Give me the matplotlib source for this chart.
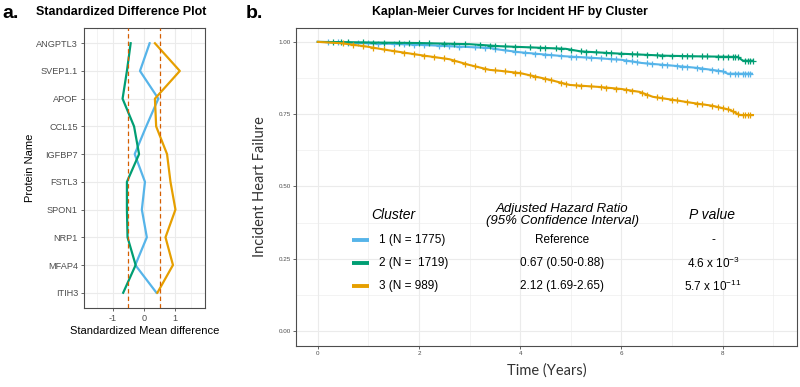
import matplotlib

matplotlib.use("Agg")
import matplotlib.pyplot as plt
import numpy as np

plt.rcParams["font.family"] = ["Liberation Sans", "DejaVu Sans"]
plt.rcParams["mathtext.fontset"] = "custom"
plt.rcParams["mathtext.rm"] = "Liberation Sans"
plt.rcParams["mathtext.it"] = "Liberation Sans:italic"

BLUE = "#56B4E9"
GREEN = "#009E73"
ORANGE = "#E69F00"
CUTOFF = "#D55E00"
GRID = "#EBEBEB"
BORDER = "#4D4D4D"
TICK = "#4D4D4D"

# ---- panel a: standardized mean differences (top to bottom) ----
proteins = ["ANGPTL3", "SVEP1.1", "APOF", "CCL15", "IGFBP7",
            "FSTL3", "SPON1", "NRP1", "MFAP4", "ITIH3"]
smd_c1 = [0.18, -0.13, 0.46, 0.07, -0.30, 0.03, -0.07, 0.09, -0.28, 0.40]
smd_c2 = [-0.43, -0.55, -0.69, -0.32, -0.16, -0.55, -0.55, -0.53, -0.27, -0.67]
smd_c3 = [0.35, 1.15, 0.35, 0.39, 0.74, 0.85, 1.01, 0.69, 0.93, 0.43]
smd_cut = [-0.5, 0.5]

# ---- panel b: Kaplan-Meier curves ----
t1 = [0, 0.5, 1.0, 1.5, 2.0, 2.5, 3.0, 3.4, 3.6, 4.0, 4.5, 4.9, 5.5, 6.0,
      6.4, 7.0, 7.5, 8.0, 8.1, 8.58]
s1 = [1.0, 0.998, 0.995, 0.993, 0.99, 0.986, 0.982, 0.979, 0.973, 0.964,
      0.956, 0.95, 0.944, 0.938, 0.927, 0.918, 0.91, 0.898, 0.89, 0.89]
t2 = [0, 0.5, 1.0, 2.0, 3.0, 3.6, 4.2, 4.9, 5.2, 6.0, 6.9, 7.5, 8.3, 8.4, 8.6]
s2 = [1.0, 0.999, 0.998, 0.996, 0.992, 0.985, 0.981, 0.976, 0.967, 0.959,
      0.952, 0.95, 0.948, 0.935, 0.935]
t3 = [0, 0.48, 0.96, 1.36, 2.0, 2.6, 3.0, 3.4, 3.6, 4.0, 4.58, 4.98, 5.57,
      6.0, 6.36, 6.62, 7.0, 7.4, 7.8, 8.14, 8.34, 8.6]
s3 = [1.0, 0.995, 0.984, 0.972, 0.955, 0.94, 0.92, 0.903, 0.90, 0.892, 0.869,
      0.851, 0.844, 0.837, 0.827, 0.81, 0.80, 0.789, 0.779, 0.765, 0.747, 0.747]

# censoring times (tick marks on the curves)
cens1 = [0.2, 0.4, 0.6, 0.8, 1.0, 1.2, 1.5, 1.7, 1.9, 2.1, 2.4, 2.6, 2.8,
         3.1, 3.3, 3.5, 3.7, 3.9, 4.1, 4.3, 4.5, 4.6, 4.8, 5.0, 5.1, 5.3,
         5.4, 5.6, 5.8, 5.9, 6.1, 6.2, 6.3, 6.5, 6.6, 6.8, 6.9, 7.1, 7.2,
         7.3, 7.5, 7.6, 7.8, 7.9, 8.0, 8.15, 8.25, 8.3, 8.4, 8.45, 8.5, 8.55]
cens2 = [0.3, 0.45, 0.6, 0.9, 1.1, 1.3, 1.6, 1.8, 2.0, 2.2, 2.5, 2.7, 2.9,
         3.2, 3.4, 3.5, 3.7, 3.9, 4.2, 4.4, 4.5, 4.7, 4.8, 5.0, 5.2, 5.3,
         5.5, 5.7, 5.8, 6.0, 6.2, 6.3, 6.5, 6.7, 6.8, 7.0, 7.2, 7.3, 7.4,
         7.6, 7.7, 7.9, 8.0, 8.1, 8.2, 8.25, 8.3, 8.45, 8.5, 8.55, 8.6]
cens3 = [0.5, 0.7, 0.9, 1.1, 1.3, 1.5, 1.7, 1.9, 2.1, 2.3, 2.5, 2.7, 2.9,
         3.1, 3.3, 3.5, 3.7, 3.9, 4.0, 4.2, 4.3, 4.5, 4.6, 4.8, 4.9, 5.1,
         5.2, 5.4, 5.6, 5.7, 5.9, 6.1, 6.2, 6.4, 6.5, 6.7, 6.8, 7.0, 7.1,
         7.3, 7.5, 7.6, 7.8, 7.9, 8.0, 8.1, 8.2, 8.3, 8.4, 8.45, 8.5, 8.55]

legend_labels = ["1 (N = 1775)", "2 (N =  1719)", "3 (N = 989)"]
hr_text = ["Reference", "0.67 (0.50-0.88)", "2.12 (1.69-2.65)"]
p_text = ["-", r"4.6 x 10$^{\mathregular{-3}}$", r"5.7 x 10$^{\mathregular{-11}}$"]


def style_axes(ax):
    for sp in ax.spines.values():
        sp.set_color(BORDER)
        sp.set_linewidth(0.8)
    ax.grid(True, which="major", color=GRID, linewidth=0.8, zorder=0)
    ax.grid(True, which="minor", color=GRID, linewidth=0.4, zorder=0)
    ax.set_axisbelow(True)
    ax.tick_params(which="major", color=TICK, length=2.5, width=0.6,
                   labelcolor=TICK, pad=1.8)
    ax.tick_params(which="minor", length=0)


fig = plt.figure(figsize=(8, 3.87), dpi=100)
W, H = 800, 387


def rect(x0, y0, x1, y1):
    return [x0 / W, 1 - y1 / H, (x1 - x0) / W, (y1 - y0) / H]


# ---------- panel a ----------
ax1 = fig.add_axes(rect(84, 28, 205, 308))
ypos = np.arange(len(proteins))[::-1] + 1
ax1.plot(smd_c1, ypos, color=BLUE, lw=1.6, zorder=3)
ax1.plot(smd_c2, ypos, color=GREEN, lw=1.6, zorder=3)
ax1.plot(smd_c3, ypos, color=ORANGE, lw=1.6, zorder=3)
for c in smd_cut:
    ax1.axvline(c, color=CUTOFF, lw=0.9, ls=(0, (3.5, 2.5)), zorder=4)
ax1.set_xlim(-1.93, 1.96)
ax1.set_ylim(0.45, 10.55)
ax1.set_xticks([-1, 0, 1])
ax1.set_xticklabels(["-1", "0", "1"])
ax1.set_xticks([-1.5, -0.5, 0.5, 1.5], minor=True)
ax1.set_yticks(ypos)
ax1.set_yticklabels(proteins)
style_axes(ax1)
ax1.tick_params(labelsize=6.6)
ax1.set_xlabel("Standardized Mean difference", fontsize=8, labelpad=2)
ax1.set_ylabel("Protein Name", fontsize=8, labelpad=1)

fig.text(2 / W, 1 - 13 / H, "a.", fontsize=14, fontweight="bold",
         ha="left", va="center")
fig.text(121 / W, 1 - 12 / H, "Standardized Difference Plot", fontsize=9,
         fontweight="bold", ha="center", va="center")

# ---------- panel b ----------
ax2 = fig.add_axes(rect(296, 28, 797, 346))
for t, s, cens, col in [(t1, s1, cens1, BLUE), (t2, s2, cens2, GREEN),
                        (t3, s3, cens3, ORANGE)]:
    ax2.plot(t, s, color=col, lw=1.5, zorder=3)
    ax2.plot(cens, np.interp(cens, t, s), ls="none", marker="+", ms=4,
             mew=0.9, color=col, zorder=3)
ax2.set_xlim(-0.43, 9.47)
ax2.set_ylim(-0.052, 1.048)
ax2.set_xticks([0, 2, 4, 6, 8])
ax2.set_xticks([1, 3, 5, 7, 9], minor=True)
ax2.set_yticks([0, 0.25, 0.5, 0.75, 1.0])
ax2.set_yticklabels(["0.00", "0.25", "0.50", "0.75", "1.00"])
ax2.set_yticks([0.125, 0.375, 0.625, 0.875], minor=True)
style_axes(ax2)
ax2.tick_params(labelsize=4.5, length=2)
ax2.set_xlabel("Time (Years)", fontsize=10.5, family="Lato", labelpad=5,
               color="#333333")
ax2.set_ylabel("Incident Heart Failure", fontsize=10.5, family="Lato",
               labelpad=8, color="#333333")

fig.text(246 / W, 1 - 13 / H, "b.", fontsize=14, fontweight="bold",
         ha="left", va="center")
fig.text(510 / W, 1 - 12 / H, "Kaplan-Meier Curves for Incident HF by Cluster",
         fontsize=8.8, fontweight="bold", ha="center", va="center")


# table / legend inside panel b (axes-fraction layout)
def ax_xy(px, py):
    return ((px - 296) / (797 - 296), (346 - py) / (346 - 28))


tr = ax2.transAxes
cx0, cy0 = ax_xy(393, 215)
ax2.text(cx0, cy0, "Cluster", transform=tr, fontsize=10, style="italic",
         ha="center", va="center")
hx, hy = ax_xy(562, 215)
ax2.text(hx, hy, "Adjusted Hazard Ratio\n(95% Confidence Interval)",
         transform=tr, fontsize=9.5, style="italic", ha="center",
         va="center", linespacing=1.05)
px_, py_ = ax_xy(712, 215)
ax2.text(px_, py_, "P value", transform=tr, fontsize=10, style="italic",
         ha="center", va="center")

row_y = [240, 263, 286]
for ry, lab, hr, pv, col in zip(row_y, legend_labels, hr_text, p_text,
                                [BLUE, GREEN, ORANGE]):
    x0, yy = ax_xy(352, ry)
    x1, _ = ax_xy(369, ry)
    ax2.plot([x0, x1], [yy, yy], transform=tr, color=col, lw=2.8,
             solid_capstyle="butt")
    lx, _ = ax_xy(379, ry)
    ax2.text(lx, yy, lab, transform=tr, fontsize=8.5, ha="left", va="center")
    cx, _ = ax_xy(562, ry)
    ax2.text(cx, yy, hr, transform=tr, fontsize=8.5, ha="center", va="center")
    qx, _ = ax_xy(713, ry)
    ax2.text(qx, yy, pv, transform=tr, fontsize=8.5, ha="center", va="center")

fig.savefig("out.png", dpi=100, facecolor="white")
